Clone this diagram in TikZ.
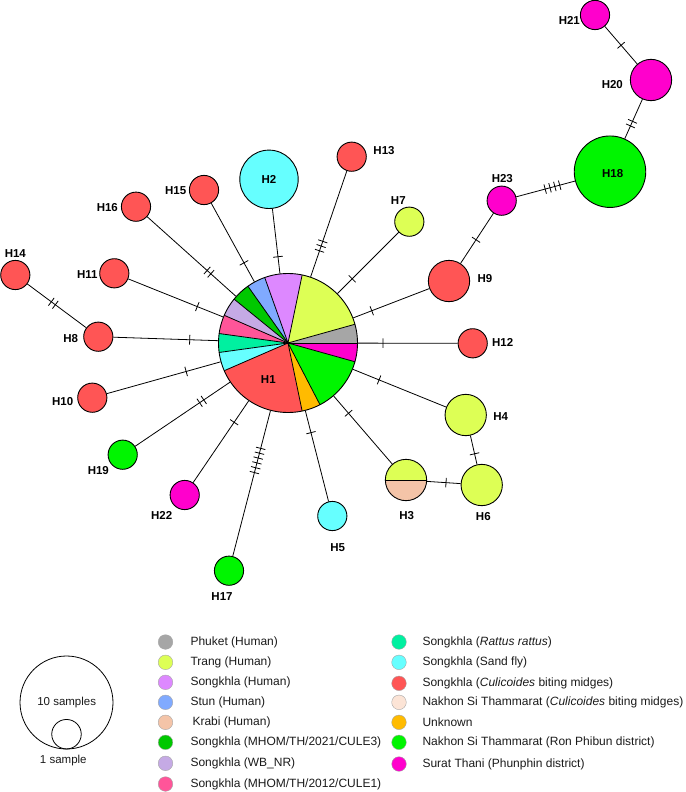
\documentclass[tikz,border=0pt]{standalone}
\usepackage{fontspec}
\setmainfont{Liberation Sans}
\usetikzlibrary{decorations.markings}
\definecolor{cGray}{HTML}{A6A6A6}
\definecolor{cTrang}{HTML}{DDFF55}
\definecolor{cSHum}{HTML}{DD88FF}
\definecolor{cStun}{HTML}{80AAFF}
\definecolor{cKrabi}{HTML}{F4C4A8}
\definecolor{cMa}{HTML}{00C800}
\definecolor{cWB}{HTML}{C5AAE5}
\definecolor{cMb}{HTML}{FF5599}
\definecolor{cRat}{HTML}{00F0A0}
\definecolor{cSand}{HTML}{66FFFF}
\definecolor{cCul}{HTML}{FF5555}
\definecolor{cNCul}{HTML}{FCE4D6}
\definecolor{cUnk}{HTML}{FFBB00}
\definecolor{cRon}{HTML}{00F500}
\definecolor{cSur}{HTML}{FF00CC}
\definecolor{cTxt}{HTML}{1A1A1A}
\tikzset{
  hap/.style={circle, draw, line width=0.9pt, inner sep=0pt},
  small/.style={hap, minimum size=29.2pt},
  medium/.style={hap, minimum size=41.3pt},
  lab/.style={inner sep=0pt, font=\bfseries\fontsize{11.5}{13}\selectfont},
  edge/.style={line width=0.8pt},
  hatch/.style 2 args={postaction={decorate,decoration={markings,
     mark=at position #1 with {\pgfmathsetmacro{\hoff}{-(#2-1)/2*5}
        \foreach \k in {1,...,#2}{\draw[line width=0.8pt] ({\hoff pt+(\k-1)*5pt},-4.8pt) -- ++(0pt,9.6pt);}}}}},
  legdot/.style={circle, draw=black!35, line width=0.4pt, inner sep=0pt, minimum size=14.6pt},
  legtxt/.style={anchor=west, inner sep=0pt, text=cTxt, font=\fontsize{12}{14}\selectfont},
  sizetxt/.style={inner sep=0pt, text=cTxt, font=\fontsize{11.5}{13}\selectfont},
}
\begin{document}
\begin{tikzpicture}[x=1pt, y=-1pt]
\useasboundingbox (0,0) rectangle (685,792);
% nodes
\node[hap, draw=none, minimum size=139pt] (H1) at (288,343) {};
\node[hap, minimum size=58.4pt, fill=cSand] (H2) at (269,179.3) {};
\node[medium, draw=none] (H3) at (406,480) {};
\node[medium, fill=cTrang] (H4) at (465.7,415) {};
\node[small, fill=cSand] (H5) at (332.3,516) {};
\node[medium, fill=cTrang] (H6) at (481.7,485) {};
\node[small, fill=cTrang] (H7) at (409.3,221.7) {};
\node[small, fill=cCul] (H8) at (98.3,336.7) {};
\node[medium, fill=cCul] (H9) at (449,281) {};
\node[small, fill=cCul] (H10) at (92.3,397.7) {};
\node[small, fill=cCul] (H11) at (114.3,273.3) {};
\node[small, fill=cCul] (H12) at (472.7,343.3) {};
\node[small, fill=cCul] (H13) at (351.7,156.7) {};
\node[small, fill=cCul] (H14) at (15.3,275) {};
\node[small, fill=cCul] (H15) at (204,190) {};
\node[small, fill=cCul] (H16) at (136,206.7) {};
\node[small, fill=cRon] (H17) at (229,570.7) {};
\node[hap, minimum size=71.5pt, fill=cRon] (H18) at (610,171.7) {};
\node[small, fill=cRon] (H19) at (122.7,454.7) {};
\node[medium, fill=cSur] (H20) at (651,80) {};
\node[small, fill=cSur] (H21) at (595,15) {};
\node[small, fill=cSur] (H22) at (184.7,495) {};
\node[small, fill=cSur] (H23) at (501.7,200.7) {};
% pie H1
\foreach \a/\b/\c in {0/15.65/cGray, 15.65/78.26/cTrang, 78.26/109.57/cSHum, 109.57/125.22/cStun,
  125.22/140.87/cMa, 140.87/156.52/cWB, 156.52/172.17/cMb, 172.17/187.83/cRat, 187.83/203.48/cSand,
  203.48/281.74/cCul, 281.74/297.39/cUnk, 297.39/344.35/cRon, 344.35/360/cSur}{
  \fill[\c] (H1.center) -- ++(\a:69.5pt) arc[start angle=\a, end angle=\b, radius=69.5pt] -- cycle;
}
\foreach \a in {0,15.65,78.26,109.57,125.22,140.87,156.52,172.17,187.83,203.48,281.74,297.39,344.35}{
  \draw[line width=0.8pt] (H1.center) -- ++(\a:69.5pt);
}
\draw[line width=0.9pt] (H1.center) circle[radius=69.5pt];
% H3 half and half
\fill[cTrang] (H3.center) ++(180:20.65pt) arc[start angle=180, end angle=0, radius=20.65pt] -- cycle;
\fill[cKrabi] (H3.center) ++(180:20.65pt) arc[start angle=180, end angle=360, radius=20.65pt] -- cycle;
\draw[line width=0.9pt] (H3.west) -- (H3.east);
\draw[line width=0.9pt] (H3.center) circle[radius=20.65pt];
% edges
\draw[edge, hatch={25pt}{1}] (H1) -- (H12);
\draw[edge, hatch={19.8pt}{1}] (H1) -- (H9);
\draw[edge, hatch={20.8pt}{1}] (H1) -- (H7);
\draw[edge, hatch={32.5pt}{3}] (H1) -- (H13);
\draw[edge, hatch={16.9pt}{1}] (H1) -- (H2);
\draw[edge, hatch={21.5pt}{1}] (H1) -- (H15);
\draw[edge, hatch={36.2pt}{2}] (H1) -- (H16);
\draw[edge, hatch={27.8pt}{1}] (H1) -- (H11);
\draw[edge, hatch={28.4pt}{1}] (H1) -- (H8);
\draw[edge, hatch={35.8pt}{1}] (H1) -- (H10);
\draw[edge, hatch={34.2pt}{2}] (H1) -- (H19);
\draw[edge, hatch={25.9pt}{1}] (H1) -- (H22);
\draw[edge, hatch={51.4pt}{6}] (H1) -- (H17);
\draw[edge, hatch={22.6pt}{1}] (H1) -- (H5);
\draw[edge, hatch={22.8pt}{1}] (H1) -- (H3);
\draw[edge, hatch={28.3pt}{1}] (H1) -- (H4);
\draw[edge, hatch={24.9pt}{1}] (H21) -- (H20);
\draw[edge, hatch={26.7pt}{2}] (H20) -- (H18);
\draw[edge, hatch={23.4pt}{4}] (H18) -- (H23);
\draw[edge, hatch={31.7pt}{1}] (H23) -- (H9);
\draw[edge, hatch={41pt}{2}] (H8) -- (H14);
\draw[edge, hatch={18.7pt}{1}] (H4) -- (H6);
\draw[edge, hatch={19pt}{1}] (H3) -- (H6);
% labels
\node[lab] (lH1) at (268.3,379.3) {H1};
\node[lab] (lH2) at (269,179.3) {H2};
\node[lab] (lH18) at (612.7,174) {H18};
\node[lab] (lH13) at (384,150.7) {H13};
\node[lab] (lH15) at (175.7,190.7) {H15};
\node[lab] (lH16) at (107.3,208) {H16};
\node[lab] (lH14) at (15.3,253.7) {H14};
\node[lab] (lH11) at (87.3,274.7) {H11};
\node[lab] (lH8) at (70.7,339) {H8};
\node[lab] (lH10) at (62.7,401.7) {H10};
\node[lab] (lH19) at (98.3,471) {H19};
\node[lab] (lH22) at (161.7,515.7) {H22};
\node[lab] (lH17) at (222,597) {H17};
\node[lab] (lH5) at (337.7,547.7) {H5};
\node[lab] (lH3) at (406.7,516) {H3};
\node[lab] (lH6) at (483.3,516.7) {H6};
\node[lab] (lH4) at (500.7,416.7) {H4};
\node[lab] (lH12) at (502.7,342) {H12};
\node[lab] (lH9) at (485,278.7) {H9};
\node[lab] (lH7) at (398.3,201) {H7};
\node[lab] (lH23) at (502.3,179) {H23};
\node[lab] (lH20) at (612.3,85) {H20};
\node[lab] (lH21) at (569.3,20) {H21};
% size legend
\node[circle, draw, line width=0.8pt, inner sep=0pt, minimum size=93pt] (S10) at (66.5,702.5) {};
\node[circle, draw, line width=0.8pt, inner sep=0pt, minimum size=29.5pt] (S1) at (66.5,734.2) {};
\node[sizetxt] (tS10) at (66.7,702.3) {10 samples};
\node[sizetxt] (tS1) at (63.3,760.5) {1 sample};
% colour legend
\foreach \y/\c/\t [count=\i] in {642/cGray/{Phuket (Human)}, 662.3/cTrang/{Trang (Human)},
  682.3/cSHum/{Songkhla (Human)}, 702.3/cStun/{Stun (Human)}, 722.3/cKrabi/{\,Krabi (Human)},
  742.3/cMa/{Songkhla (MHOM/TH/2021/CULE3)}, 763.3/cWB/{Songkhla (WB\_NR)},
  784/cMb/{Songkhla (MHOM/TH/2012/CULE1)}}{
  \node[legdot, fill=\c] (kL\i) at (165.5,\y) {};
  \node[legtxt] (tL\i) at (190.3,\y) {\t};
}
\foreach \y/\c/\t [count=\i] in {642/cRat/{Songkhla (\textit{Rattus rattus})}, 662.3/cSand/{Songkhla (Sand fly)},
  683.3/cCul/{Songkhla (\textit{Culicoides} biting midges)},
  702.3/cNCul/{Nakhon Si Thammarat (\textit{Culicoides} biting midges)},
  722.3/cUnk/{Unknown}, 742.3/cRon/{Nakhon Si Thammarat (Ron Phibun district)},
  764/cSur/{Surat Thani (Phunphin district)}}{
  \node[legdot, fill=\c] (kR\i) at (399,\y) {};
  \node[legtxt] (tR\i) at (422.3,\y) {\t};
}
\end{tikzpicture}
\end{document}
